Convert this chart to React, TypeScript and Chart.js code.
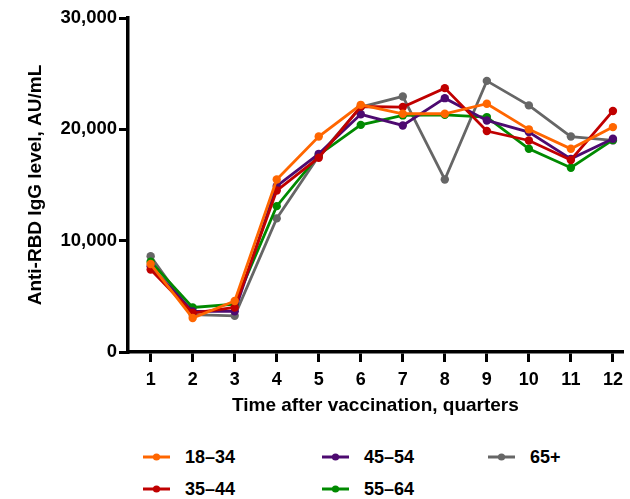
import React, { useEffect, useRef } from "react";
import { Chart, registerables } from "chart.js";

Chart.register(...registerables);

const quarters = [1, 2, 3, 4, 5, 6, 7, 8, 9, 10, 11, 12];
const seriesNames = ["18–34", "35–44", "45–54", "55–64", "65+"];
const age18_34 = [7900, 3050, 4580, 15500, 19350, 22200, 21400, 21400, 22300, 20000, 18250, 20200];
const age35_44 = [7400, 3500, 4000, 14500, 17450, 22050, 22000, 23700, 19850, 19000, 17250, 21650];
const age45_54 = [7700, 3650, 3650, 14900, 17800, 21350, 20350, 22800, 20800, 19750, 17350, 19150];
const age55_64 = [8100, 4000, 4300, 13100, 17700, 20400, 21250, 21300, 21100, 18250, 16550, 19050];
const age65plus = [8600, 3350, 3250, 12000, 17600, 22000, 22950, 15500, 24350, 22150, 19350, 19000];
const yTicks = [0, 10000, 20000, 30000];

const colors = ["#FF6600", "#C00000", "#4D0A70", "#008A00", "#666666"];
const allSeries = [age18_34, age35_44, age45_54, age55_64, age65plus];

const FONT = "'Liberation Sans', Arial, sans-serif";

const legendLayout = [
  { left: 143, top: 457 },
  { left: 143, top: 489 },
  { left: 322, top: 457 },
  { left: 322, top: 489 },
  { left: 488, top: 457 },
];

export default function App() {
  const ref = useRef<HTMLCanvasElement>(null);
  useEffect(() => {
    if (!ref.current) return;
    const chart = new Chart(ref.current, {
      type: "line",
      data: {
        datasets: seriesNames.map((name, i) => ({
          label: name,
          data: quarters.map((q, j) => ({ x: q, y: allSeries[i][j] })),
          borderColor: colors[i],
          backgroundColor: colors[i],
          pointBackgroundColor: colors[i],
          pointBorderWidth: 0,
          pointRadius: 4.2,
          borderWidth: 2.8,
          tension: 0,
        })),
      },
      options: {
        animation: false,
        responsive: false,
        maintainAspectRatio: false,
        layout: { padding: { top: 18, right: 0, bottom: 0, left: 0 } },
        plugins: { legend: { display: false }, tooltip: { enabled: false } },
        scales: {
          x: {
            type: "linear",
            min: 0.461,
            max: 12.235,
            afterFit: (s: any) => {
              s.height = 78;
            },
            afterBuildTicks: (s: any) => {
              s.ticks = quarters.map((v) => ({ value: v }));
            },
            ticks: {
              color: "#000",
              font: { family: FONT, size: 18, weight: "bold" },
              padding: 7,
              maxRotation: 0,
              autoSkip: false,
            },
            grid: {
              drawOnChartArea: false,
              drawTicks: true,
              tickLength: 10,
              color: "#000",
              lineWidth: 3,
            },
            border: { display: true, color: "#000", width: 3.5 },
            title: {
              display: true,
              text: "Time after vaccination, quarters",
              color: "#000",
              font: { family: FONT, size: 19, weight: "bold" },
              padding: { top: 0, bottom: 13 },
            },
          },
          y: {
            type: "linear",
            min: 0,
            max: 30000,
            afterFit: (s: any) => {
              s.width = 128;
            },
            afterBuildTicks: (s: any) => {
              s.ticks = yTicks.map((v) => ({ value: v }));
            },
            ticks: {
              color: "#000",
              font: { family: FONT, size: 18.5, weight: "bold" },
              padding: 2,
              callback: (v: any) => Number(v).toLocaleString("en-US"),
            },
            grid: {
              drawOnChartArea: false,
              drawTicks: true,
              tickLength: 9,
              color: "#000",
              lineWidth: 3,
            },
            border: { display: true, color: "#000", width: 3.5 },
            title: {
              display: true,
              text: "Anti-RBD IgG level, AU/mL",
              color: "#000",
              font: { family: FONT, size: 19, weight: "bold" },
              padding: { top: 24, bottom: 0 },
            },
          },
        },
      },
    });
    return () => chart.destroy();
  }, []);

  return (
    <div style={{ position: "fixed", left: 0, top: 0, width: 630, height: 499, background: "#fff", overflow: "hidden" }}>
      <canvas ref={ref} width={630} height={430} style={{ position: "absolute", left: 0, top: 0, width: 630, height: 430 }} />
      {seriesNames.map((name, i) => (
        <div
          key={name}
          style={{
            position: "absolute",
            left: legendLayout[i].left,
            top: legendLayout[i].top - 12,
            height: 24,
            display: "flex",
            alignItems: "center",
            fontFamily: FONT,
            fontWeight: "bold",
            fontSize: 18,
            color: "#000",
            whiteSpace: "nowrap",
          }}
        >
          <svg width={27} height={12} style={{ marginRight: 15 }}>
            <line x1={0} y1={6} x2={27} y2={6} stroke={colors[i]} strokeWidth={3} />
            <circle cx={13.5} cy={6} r={3.6} fill={colors[i]} />
          </svg>
          <span>{name}</span>
        </div>
      ))}
    </div>
  );
}
